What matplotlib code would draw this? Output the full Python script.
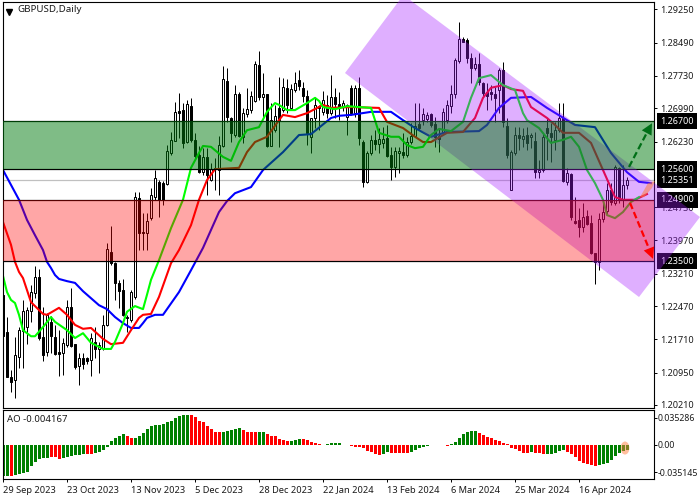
import matplotlib
matplotlib.use("Agg")
import matplotlib.pyplot as plt
from matplotlib.patches import Polygon, Ellipse

plt.rcParams['font.family'] = ['Noto Sans', 'DejaVu Sans']

# --- DATA ---
opens = [1.2273,1.2188,1.2085,1.2078,1.2130,1.2190,1.2199,1.2236,1.2277,1.2314,
         1.2176,1.2142,1.2211,1.2176,1.2142,1.2140,1.2158,1.2245,1.2160,1.2110,
         1.2128,1.2128,1.2124,1.2165,1.2149,1.2151,1.2204,1.2370,1.2345,1.2300,
         1.2284,1.2222,1.2215,1.2268,1.2494,1.2416,1.2414,1.2448,1.2496,1.2531,
         1.2528,1.2526,1.2597,1.2624,1.2693,1.2695,1.2622,1.2704,1.2627,1.2592,
         1.2553,1.2588,1.2535,1.2563,1.2558,1.2613,1.2762,1.2677,1.2638,1.2732,
         1.2634,1.2686,1.2695,1.2716,1.2798,1.2725,1.2732,1.2613,1.2649,1.2700,
         1.2695,1.2746,1.2700,1.2741,1.2764,1.2746,1.2727,1.2634,1.2677,1.2704,
         1.2691,1.2707,1.2688,1.2725,1.2709,1.2702,1.2679,1.2746,1.2688,1.2746,
         1.2622,1.2531,1.2597,1.2627,1.2617,1.2620,1.2631,1.2592,1.2565,1.2597,
         1.2599,1.2592,1.2622,1.2636,1.2663,1.2672,1.2675,1.2686,1.2663,1.2636,
         1.2645,1.2672,1.2704,1.2732,1.2807,1.2857,1.2855,1.2814,1.2791,1.2800,
         1.2757,1.2736,1.2736,1.2732,1.2741,1.2787,1.2659,1.2512,1.2597,1.2638,
         1.2629,1.2638,1.2634,1.2624,1.2553,1.2558,1.2654,1.2643,1.2627,1.2649,
         1.2677,1.2531,1.2549,1.2441,1.2444,1.2428,1.2453,1.2437,1.2368,1.2348,
         1.2446,1.2464,1.2512,1.2483,1.2563,1.2490,1.2524]
highs = [1.2284,1.2222,1.2101,1.2176,1.2199,1.2261,1.2245,1.2295,1.2338,1.2332,
         1.2245,1.2231,1.2224,1.2204,1.2192,1.2174,1.2261,1.2288,1.2160,1.2140,
         1.2140,1.2130,1.2185,1.2199,1.2165,1.2227,1.2391,1.2430,1.2348,1.2307,
         1.2309,1.2227,1.2284,1.2508,1.2508,1.2460,1.2460,1.2517,1.2558,1.2535,
         1.2533,1.2615,1.2645,1.2714,1.2734,1.2711,1.2718,1.2723,1.2643,1.2613,
         1.2608,1.2608,1.2574,1.2585,1.2636,1.2796,1.2791,1.2679,1.2752,1.2736,
         1.2700,1.2746,1.2739,1.2807,1.2830,1.2780,1.2732,1.2711,1.2707,1.2771,
         1.2768,1.2766,1.2755,1.2782,1.2787,1.2759,1.2741,1.2677,1.2725,1.2707,
         1.2739,1.2730,1.2775,1.2746,1.2736,1.2718,1.2709,1.2752,1.2752,1.2771,
         1.2627,1.2602,1.2638,1.2649,1.2654,1.2656,1.2661,1.2611,1.2611,1.2611,
         1.2643,1.2634,1.2666,1.2711,1.2711,1.2700,1.2691,1.2688,1.2679,1.2654,
         1.2700,1.2718,1.2752,1.2814,1.2896,1.2862,1.2860,1.2826,1.2816,1.2826,
         1.2759,1.2757,1.2752,1.2748,1.2791,1.2805,1.2677,1.2604,1.2656,1.2656,
         1.2654,1.2656,1.2643,1.2645,1.2581,1.2643,1.2677,1.2666,1.2668,1.2711,
         1.2711,1.2563,1.2551,1.2496,1.2471,1.2483,1.2467,1.2455,1.2368,1.2460,
         1.2483,1.2528,1.2528,1.2569,1.2565,1.2569,1.2542]
lows = [1.2169,1.2085,1.2051,1.2037,1.2105,1.2105,1.2160,1.2211,1.2265,1.2169,
        1.2121,1.2133,1.2140,1.2135,1.2087,1.2090,1.2153,1.2153,1.2103,1.2067,
        1.2103,1.2115,1.2087,1.2128,1.2094,1.2147,1.2201,1.2341,1.2261,1.2243,
        1.2224,1.2188,1.2211,1.2263,1.2375,1.2375,1.2375,1.2444,1.2490,1.2451,
        1.2478,1.2524,1.2592,1.2624,1.2631,1.2608,1.2620,1.2622,1.2581,1.2551,
        1.2547,1.2501,1.2533,1.2512,1.2501,1.2611,1.2668,1.2622,1.2634,1.2634,
        1.2620,1.2679,1.2688,1.2714,1.2718,1.2679,1.2611,1.2613,1.2645,1.2611,
        1.2691,1.2688,1.2695,1.2736,1.2741,1.2714,1.2615,1.2597,1.2654,1.2649,
        1.2684,1.2677,1.2684,1.2677,1.2672,1.2693,1.2638,1.2684,1.2679,1.2615,
        1.2519,1.2528,1.2592,1.2604,1.2597,1.2608,1.2588,1.2535,1.2542,1.2551,
        1.2585,1.2588,1.2617,1.2634,1.2649,1.2661,1.2668,1.2656,1.2611,1.2599,
        1.2643,1.2666,1.2688,1.2723,1.2803,1.2851,1.2803,1.2757,1.2787,1.2752,
        1.2725,1.2695,1.2718,1.2668,1.2688,1.2656,1.2585,1.2512,1.2592,1.2604,
        1.2611,1.2604,1.2608,1.2540,1.2540,1.2553,1.2581,1.2576,1.2604,1.2645,
        1.2531,1.2524,1.2444,1.2435,1.2405,1.2416,1.2432,1.2366,1.2298,1.2329,
        1.2439,1.2457,1.2478,1.2478,1.2483,1.2474,1.2515]
closes = [1.2178,1.2085,1.2074,1.2135,1.2192,1.2236,1.2238,1.2279,1.2314,1.2174,
          1.2135,1.2227,1.2178,1.2137,1.2137,1.2163,1.2245,1.2156,1.2108,1.2128,
          1.2115,1.2121,1.2174,1.2149,1.2158,1.2204,1.2377,1.2345,1.2300,1.2281,
          1.2227,1.2220,1.2279,1.2496,1.2414,1.2414,1.2441,1.2501,1.2540,1.2490,
          1.2490,1.2602,1.2627,1.2691,1.2688,1.2620,1.2709,1.2627,1.2590,1.2553,
          1.2588,1.2547,1.2560,1.2560,1.2615,1.2766,1.2679,1.2643,1.2732,1.2636,
          1.2688,1.2697,1.2727,1.2800,1.2725,1.2732,1.2613,1.2672,1.2682,1.2672,
          1.2748,1.2707,1.2743,1.2757,1.2750,1.2727,1.2643,1.2677,1.2707,1.2700,
          1.2718,1.2688,1.2725,1.2709,1.2700,1.2711,1.2707,1.2688,1.2746,1.2631,
          1.2531,1.2597,1.2627,1.2617,1.2629,1.2629,1.2590,1.2565,1.2602,1.2602,
          1.2592,1.2622,1.2636,1.2659,1.2654,1.2686,1.2684,1.2661,1.2634,1.2629,
          1.2691,1.2707,1.2732,1.2809,1.2857,1.2851,1.2814,1.2791,1.2800,1.2759,
          1.2734,1.2727,1.2732,1.2723,1.2787,1.2668,1.2592,1.2599,1.2638,1.2631,
          1.2636,1.2620,1.2638,1.2553,1.2558,1.2634,1.2643,1.2634,1.2649,1.2677,
          1.2533,1.2551,1.2451,1.2437,1.2428,1.2451,1.2435,1.2368,1.2348,1.2446,
          1.2462,1.2512,1.2485,1.2565,1.2490,1.2524,1.25351]

blue_x = [0,4,6,8,10,11,12,13,14,16,18,20,22,24,26,28,30,32,34,35,36,38,40,41,44,47,50,52,54,56,58,62,
          65,70,74,77,82,84,87,92,97,100,103,107,111,119,121,124,127,132,136,141,143,148,152,156,159,162]
blue_y = [1.2558,1.2490,1.2444,1.2409,1.2375,1.2348,1.2334,1.2318,1.2309,1.2304,1.2300,1.2281,1.2265,1.2249,
          1.2240,1.2222,1.2208,1.2197,1.2197,1.2208,1.2220,1.2227,1.2227,1.2240,1.2279,1.2329,1.2380,1.2421,
          1.2462,1.2487,1.2505,1.2519,1.2558,1.2599,1.2638,1.2640,1.2677,1.2682,1.2684,1.2691,1.2691,1.2672,
          1.2654,1.2634,1.2645,1.2647,1.2661,1.2700,1.2723,1.2725,1.2700,1.2672,1.2661,1.2656,1.2597,1.2553,
          1.2531,1.2528]

red_x = [0,2,3,4,5,7,9,10,11,14,16,18,20,22,25,27,30,32,34,35,37,39,42,44,47,49,51,53,59,61,63,66,69,70,73,76,
         80,82,87,94,96,100,103,105,107,111,115,118,120,122,125,127,130,132,136,138,140,144,147,150,153,155,158,161]
red_y = [1.2439,1.2387,1.2348,1.2325,1.2311,1.2256,1.2238,1.2229,1.2227,1.2243,1.2227,1.2204,1.2195,1.2197,
         1.2172,1.2160,1.2163,1.2192,1.2220,1.2227,1.2229,1.2268,1.2345,1.2375,1.2432,1.2490,1.2535,1.2560,
         1.2563,1.2599,1.2622,1.2634,1.2672,1.2684,1.2679,1.2688,1.2707,1.2700,1.2702,1.2700,1.2668,1.2654,
         1.2634,1.2622,1.2622,1.2643,1.2645,1.2677,1.2723,1.2746,1.2752,1.2743,1.2739,1.2702,1.2677,1.2661,
         1.2643,1.2643,1.2620,1.2558,1.2496,1.2490,1.2490,1.2503]

green_x = [0,1,2,3,4,5,7,8,10,12,13,16,18,20,22,25,27,28,30,31,33,35,36,37,39,42,45,47,49,50,52,55,57,59,61,64,
           66,68,69,71,73,76,78,79,80,83,86,89,92,93,94,97,99,101,103,105,107,109,112,115,117,119,122,125,128,
           130,131,134,136,137,140,142,144,146,148,150,151,153,155,157,159]
green_y = [1.2316,1.2279,1.2261,1.2254,1.2227,1.2192,1.2178,1.2178,1.2199,1.2222,1.2211,1.2192,1.2174,1.2185,
           1.2163,1.2149,1.2149,1.2165,1.2208,1.2234,1.2247,1.2240,1.2273,1.2307,1.2352,1.2425,1.2490,1.2563,
           1.2597,1.2613,1.2611,1.2588,1.2579,1.2622,1.2649,1.2656,1.2691,1.2711,1.2707,1.2695,1.2695,1.2711,
           1.2723,1.2716,1.2702,1.2697,1.2704,1.2702,1.2700,1.2672,1.2643,1.2634,1.2634,1.2615,1.2608,1.2611,
           1.2638,1.2652,1.2647,1.2668,1.2723,1.2768,1.2775,1.2752,1.2741,1.2688,1.2672,1.2654,1.2631,1.2620,
           1.2627,1.2634,1.2611,1.2558,1.2528,1.2490,1.2455,1.2448,1.2462,1.2485,1.2496]

ao_values = [-.0400,-.0396,-.0400,-.0387,-.0378,-.0366,-.0344,-.0271,-.0215,-.0181,
             -.0172,-.0163,-.0151,-.0159,-.0181,-.0163,-.0155,-.0142,-.0133,-.0125,
             -.0116,-.0112,-.0120,-.0108,-.0095,-.0065,-.0026,.0056,.0095,.0116,
             .0142,.0120,.0086,.0095,.0120,.0151,.0202,.0245,.0258,.0258,
             .0267,.0292,.0314,.0344,.0374,.0387,.0387,.0387,.0361,.0310,
             .0292,.0249,.0206,.0172,.0163,.0172,.0185,.0194,.0206,.0219,
             .0198,.0172,.0172,.0172,.0172,.0172,.0138,.0120,.0112,.0073,
             .0060,.0052,.0056,.0065,.0073,.0073,.0065,.0043,.0026,.0017,
             -.0004,.0013,.0022,.0022,.0022,.0004,.0004,-.0009,-.0022,-.0030,
             -.0043,-.0073,-.0090,-.0116,-.0129,-.0116,-.0095,-.0103,-.0103,-.0103,
             -.0103,-.0103,-.0086,-.0060,-.0034,-.0022,-.0013,-.0004,-.0004,-.0004,
             -.0004,-.0009,.0009,.0034,.0095,.0138,.0163,.0176,.0181,.0155,
             .0129,.0103,.0086,.0060,.0047,.0030,.0009,-.0034,-.0047,-.0077,
             -.0099,-.0099,-.0086,-.0108,-.0108,-.0120,-.0116,-.0116,-.0103,-.0077,
             -.0065,-.0095,-.0120,-.0151,-.0206,-.0237,-.0249,-.0258,-.0271,-.0258,
             -.0249,-.0237,-.0194,-.0142,-.0099,-.0077,-.0069]
ao_runs = [("g",2),("r",1),("g",9),("r",3),("g",6),("r",2),("g",8),("r",2),("g",14),("r",8),("g",5),("r",4),
           ("g",2),("r",6),("g",3),("r",6),("g",4),("r",10),("g",2),("r",5),("g",8),("r",2),("g",7),("r",13),
           ("g",1),("r",3),("g",5),("r",8),("g",8)]

date_labels = ["29 Sep 2023","23 Oct 2023","13 Nov 2023","5 Dec 2023","28 Dec 2023",
               "22 Jan 2024","13 Feb 2024","6 Mar 2024","25 Mar 2024","16 Apr 2024"]
price_ticks = [1.2925,1.2849,1.2773,1.2699,1.2623,1.2473,1.2397,1.2321,1.2247,1.2171,1.2095,1.2021]
level_ticks = [1.2670,1.2560,1.25351,1.2490,1.2350]
ao_ticks = [0.035286,0.0,-0.035145]
ao_tick_labels = ["0.035286","0.00","-0.035145"]

channel_x = [85.5,100.1,174.25,159.0]
channel_y = [1.27798,1.29581,1.24506,1.22677]
wedge_x = [159.25,161.25,163.0,162.25,160.25]
wedge_y = [1.2496,1.2528,1.2533,1.2517,1.2496]

# --- FIGURE ---
fig = plt.figure(figsize=(7, 5), dpi=100)
ax = fig.add_axes([2.5/700, 1-408/500, 651.5/700, 406/500])
ax2 = fig.add_axes([2.5/700, 1-479/500, 651.5/700, 69/500])
text_col = "#1a1a1a"

bars = range(len(opens))
ax.vlines(bars, lows, highs, color="black", lw=0.72, zorder=2)
for i in bars:
    up = closes[i] >= opens[i]
    ax.bar(i, abs(closes[i]-opens[i]), bottom=min(opens[i], closes[i]), width=0.5,
           facecolor="white" if up else "black", edgecolor="black", lw=0.72, zorder=2.1)

ax.plot(blue_x, blue_y, color="#0000ff", lw=1.5, zorder=2.2)
ax.plot(red_x, red_y, color="#ff0000", lw=1.5, zorder=2.3)
ax.plot(green_x, green_y, color="#00ff00", lw=1.5, zorder=2.4)

ax.axhline(1.25351, color="#c0c0c0", lw=0.9, zorder=1)
for lev in [1.2670, 1.2560, 1.2490, 1.2350]:
    ax.axhline(lev, color="black", lw=0.9, zorder=2.5)

# labels first, the shapes go over them
trans = ax.get_yaxis_transform()
for lev in level_ticks:
    ax.text(1.0095, lev, f"{lev:.5f}", transform=trans, color="white", fontsize=6.5, va="center", ha="left",
            bbox=dict(fc="black", ec="none", pad=2.6), clip_on=False, zorder=3)

ax.add_patch(Polygon(list(zip(channel_x, channel_y)), closed=True, fc=(0.65, 0.11, 1.0), ec="none",
                     alpha=0.35, clip_on=False, zorder=4))
ax.axhspan(1.2560, 1.2670, fc=(0.0, 0.48, 0.06), ec="none", alpha=0.5, zorder=5)
ax.axhspan(1.2350, 1.2490, fc=(1.0, 0.0, 0.0), ec="none", alpha=0.35, zorder=5)
ax.add_patch(Polygon(list(zip(wedge_x, wedge_y)), closed=True, fc="#ff7f3f", ec="none", alpha=0.55,
                     clip_on=False, zorder=6))

# forecast arrows
ax.plot([156.5, 160.9], [1.2565, 1.2642], color="#006f17", lw=1.6, ls=(0, (3, 1.5)), zorder=6)
ax.annotate("", xy=(162.25, 1.2665), xytext=(160.4, 1.2634),
            arrowprops=dict(arrowstyle="-|>", color="#006f17", mutation_scale=20, lw=0, shrinkA=0, shrinkB=0), zorder=6)
ax.plot([156.75, 161.2], [1.2483, 1.2385], color="#ff0000", lw=1.6, ls=(0, (3, 1.5)), zorder=6)
ax.annotate("", xy=(162.5, 1.2355), xytext=(161.0, 1.2390),
            arrowprops=dict(arrowstyle="-|>", color="#ff0000", mutation_scale=20, lw=0, shrinkA=0, shrinkB=0), zorder=6)

ax.set_xlim(-0.125, 162.75)
ax.set_ylim(1.20140, 1.29421)
ax.set_xticks([])
ax.yaxis.tick_right()
ax.set_yticks(price_ticks)
ax.set_yticklabels([f"{p:.5f}" for p in price_ticks], fontsize=6.5, color=text_col)
ax.tick_params(axis="y", length=2.2, width=0.7, pad=2.5)

ax.plot([0.0095], [0.9765], marker="v", ms=4.2, color="black", transform=ax.transAxes, clip_on=False)
ax.text(0.0235, 0.9805, "GBPUSD,Daily", transform=ax.transAxes, fontsize=7.0, color=text_col, va="center")

# --- AO PANEL ---
ao_colors = []
for c, n in ao_runs:
    ao_colors += ["#008000" if c == "g" else "#ff0000"] * n
ax2.bar(range(len(ao_values)), ao_values, width=0.75, color=ao_colors, lw=0, antialiased=False)
ax2.add_patch(Ellipse((155.5, -0.0039), 2.2, 0.0168, fc="#ff7f3f", ec="none", alpha=0.5, zorder=5))
ax2.set_xlim(-0.125, 162.75)
ax2.set_ylim(-0.04386, 0.04515)
ax2.yaxis.tick_right()
ax2.set_yticks(ao_ticks)
ax2.set_yticklabels(ao_tick_labels, fontsize=6.3, color=text_col)
ax2.set_xticks(range(0, 160, 16))
ax2.set_xticklabels(date_labels, fontsize=6.7, color=text_col, ha="left")
ax2.tick_params(axis="y", length=2.2, width=0.7, pad=0.6)
ax2.tick_params(axis="x", length=2.2, width=0.7, pad=2.5)
ax2.text(0.0075, 0.86, "AO -0.004167", transform=ax2.transAxes, fontsize=6.9, color=text_col, va="center")

for a in (ax, ax2):
    for s in a.spines.values():
        s.set_linewidth(0.8)

fig.savefig("out.png", dpi=100)
